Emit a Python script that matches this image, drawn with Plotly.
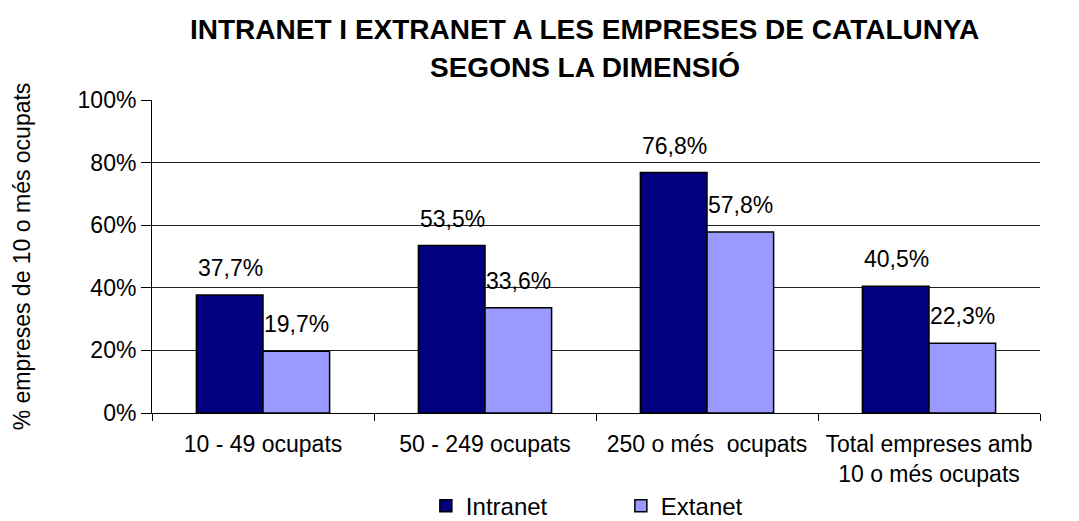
import plotly.graph_objects as go

categories = ["10 - 49 ocupats", "50 - 249 ocupats", "250 o més  ocupats",
              "Total empreses amb<br>10 o més ocupats"]
intranet = [37.7, 53.5, 76.8, 40.5]
extranet = [19.7, 33.6, 57.8, 22.3]
series_names = ["Intranet", "Extanet"]
colors = ["#000080", "#9999FF"]
title_lines = ["INTRANET I EXTRANET A LES EMPRESES DE CATALUNYA", "SEGONS LA DIMENSIÓ"]

FONT = "Liberation Sans, Arial, sans-serif"

fig = go.Figure()
for name, vals, col in zip(series_names, [intranet, extranet], colors):
    fig.add_trace(go.Bar(
        x=categories, y=vals, name=name,
        marker=dict(color=col, line=dict(color="black", width=1.5)),
    ))

# value labels above bars
annotations = []
for i, vals in enumerate([intranet, extranet]):
    for cat, v in zip(categories, vals):
        annotations.append(dict(
            x=cat, y=v, xref="x", yref="y",
            text=f"{v:.1f}%".replace(".", ","),
            showarrow=False, yanchor="bottom",
            xshift=-33 if i == 0 else 33, yshift=12,
            font=dict(size=23, color="black", family=FONT),
        ))

# title as two lines
for txt, yy in zip(title_lines, [1.224, 1.103]):
    annotations.append(dict(
        x=0.4876, y=yy, xref="paper", yref="paper",
        text=f"<b>{txt}</b>", showarrow=False,
        xanchor="center", yanchor="middle",
        font=dict(size=28, color="black", family=FONT),
    ))

fig.update_layout(
    width=1079, height=521,
    paper_bgcolor="white", plot_bgcolor="white",
    font=dict(family=FONT, size=23, color="black"),
    barmode="group", bargap=0.4, bargroupgap=0,
    margin=dict(l=144, r=47, t=92, b=116, autoexpand=False),
    showlegend=True,
    legend=dict(orientation="h", x=0.528, xanchor="center",
                yref="container", y=0.044, yanchor="middle",
                font=dict(size=24), entrywidth=150, entrywidthmode="pixels"),
    annotations=annotations,
    xaxis=dict(
        showline=True, linecolor="black", linewidth=1,
        ticks="outside", ticklen=7, tickcolor="black", tickson="boundaries",
        tickfont=dict(size=23), automargin=False, ticklabelstandoff=10,
    ),
    yaxis=dict(
        range=[0, 100], dtick=20, ticksuffix="%",
        showline=True, linecolor="black", linewidth=1,
        ticks="outside", ticklen=10, tickcolor="black",
        showgrid=True, gridcolor="#222222", gridwidth=1,
        tickfont=dict(size=23), automargin=False,
        title=dict(text="% empreses de 10 o més ocupats", font=dict(size=23), standoff=40),
        zeroline=False,
    ),
)

fig.write_html("out.html")
